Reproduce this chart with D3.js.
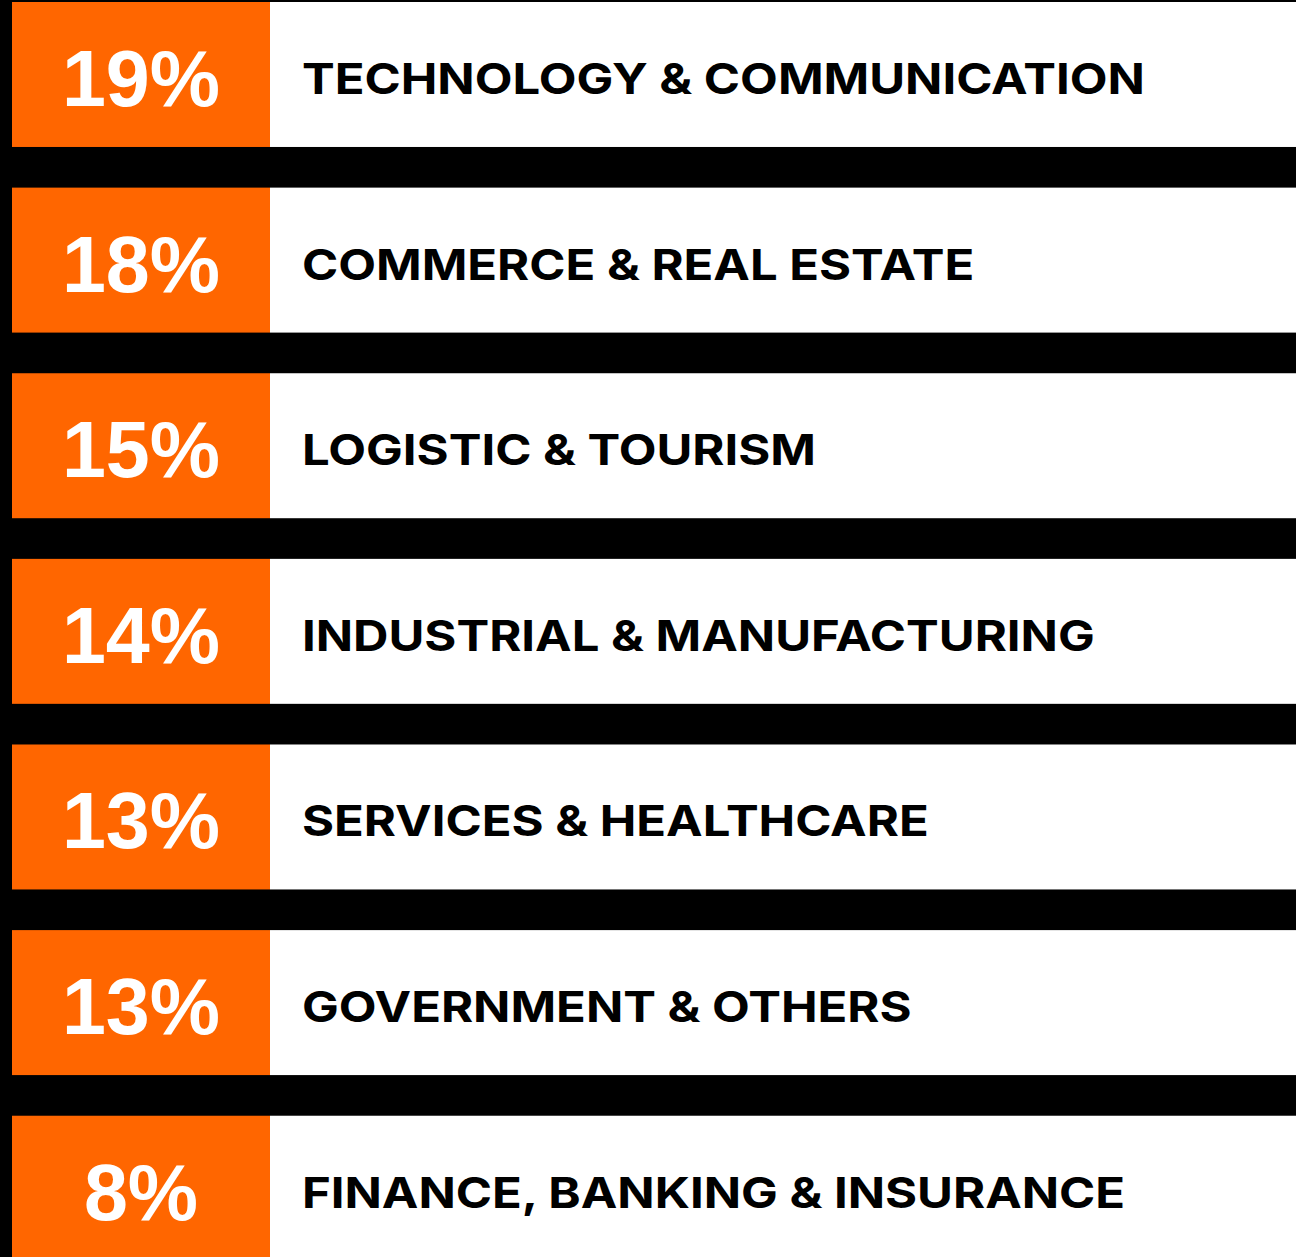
<!DOCTYPE html>
<html>
<head>
<meta charset="utf-8">
<script src="https://cdn.jsdelivr.net/npm/d3@7"></script>
<style>
  html, body { margin: 0; padding: 0; background: #000; }
  svg { display: block; }
</style>
</head>
<body>
<svg id="vis" width="1296" height="1257"></svg>
<script>
// sector share data
var sectors = [
	"TECHNOLOGY & COMMUNICATION",
	"COMMERCE & REAL ESTATE",
	"LOGISTIC & TOURISM",
	"INDUSTRIAL & MANUFACTURING",
	"SERVICES & HEALTHCARE",
	"GOVERNMENT & OTHERS",
	"FINANCE, BANKING & INSURANCE"
];
var shares = [19, 18, 15, 14, 13, 13, 8];

var svg = d3.select("#vis"),
	width = 1296,
	height = 1257;

svg.append("rect").attr("width", width).attr("height", height).attr("fill", "#000");

var rows = sectors.map(function(s, i) { return {sector: s, share: shares[i]}; });

var y = d3.scaleBand()
	.domain(sectors)
	.range([2, 1260.7])
	.paddingInner(0.219)
	.paddingOuter(0);

var boxLeft = 12, boxRight = 270;

var g = svg.selectAll("g.row")
	.data(rows)
	.enter().append("g")
	.attr("class", "row")
	.attr("transform", function(d) { return "translate(0," + y(d.sector) + ")"; });

g.append("rect")
	.attr("x", boxRight)
	.attr("width", width - boxRight)
	.attr("height", y.bandwidth())
	.attr("fill", "#fff");

g.append("rect")
	.attr("x", boxLeft)
	.attr("width", boxRight - boxLeft)
	.attr("height", y.bandwidth())
	.attr("fill", "#ff6600");

g.append("text")
	.attr("x", (boxLeft + boxRight) / 2)
	.attr("y", 104)
	.attr("text-anchor", "middle")
	.attr("fill", "#fff")
	.style("font-family", "'Liberation Sans', Arial, sans-serif")
	.style("font-weight", "bold")
	.style("font-size", "79px")
	.text(function(d) { return d.share + "%"; });

// label font is wider than Inter, so stretch it a bit
g.append("text")
	.attr("transform", "translate(302,92) scale(1.14,1)")
	.attr("fill", "#000")
	.style("font-family", "Inter, 'Liberation Sans', sans-serif")
	.style("font-weight", "bold")
	.style("font-size", "43px")
	.text(function(d) { return d.sector; });
</script>
</body>
</html>
